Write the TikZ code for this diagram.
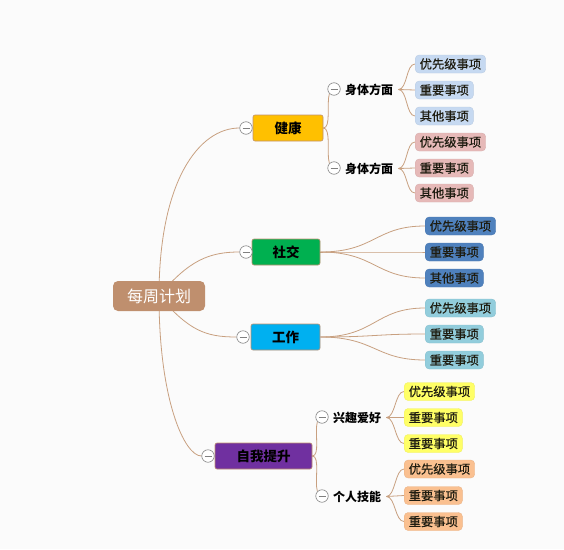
\documentclass[tikz,border=0pt]{standalone}
\usepackage{fontspec}
\newfontfamily\cjk{Noto Sans CJK SC}
\newfontfamily\cjkm[FakeBold=0.4]{Noto Sans CJK SC}
\definecolor{linkc}{HTML}{C8A080}
\definecolor{rootc}{HTML}{BF8F6E}
\definecolor{mainb}{HTML}{C09070}
\definecolor{txt}{HTML}{1E1C10}
\definecolor{cHealth}{HTML}{FFC000}
\definecolor{cSocial}{HTML}{00B050}
\definecolor{cWork}{HTML}{00B0F0}
\definecolor{cSelf}{HTML}{7030A0}
\definecolor{lBlue}{HTML}{C6D9F1}
\definecolor{lPink}{HTML}{E6B9B8}
\definecolor{lDark}{HTML}{4F81BD}
\definecolor{lCyan}{HTML}{92CDDC}
\definecolor{lYellow}{HTML}{FFFF66}
\definecolor{lPeach}{HTML}{FAC090}
\definecolor{bgc}{HTML}{FBFBFB}
\pgfdeclarelayer{bg}
\pgfdeclarelayer{links}
\pgfsetlayers{bg,links,main}
\begin{document}
\begin{tikzpicture}[x=1pt,y=-1pt,
  link/.style={draw=linkc, line width=0.8pt},
  rootbox/.style={fill=rootc, text=white, rounded corners=5pt, minimum width=92pt, minimum height=30pt, inner sep=0pt, font=\cjk\fontsize{16}{16}\selectfont},
  mainbox/.style={draw=mainb, line width=0.6pt, rounded corners=2pt, minimum height=26pt, inner sep=0pt, text=black, font=\cjk\bfseries\fontsize{13.5}{13.5}\selectfont},
  subtext/.style={anchor=west, inner sep=1pt, text=black, font=\cjk\bfseries\fontsize{12}{12}\selectfont},
  leaf/.style={anchor=west, fill=#1, draw=#1!94!black, line width=0.4pt, rounded corners=4pt, minimum height=18pt, inner xsep=4.5pt, inner ysep=0pt, text=txt, font=\cjkm\fontsize{12.3}{12.3}\selectfont},
  toggle/.style={circle, draw=gray, fill=white, line width=0.6pt, minimum size=12.5pt, inner sep=0pt,
    path picture={\draw[gray, line width=0.6pt] ([xshift=-3.5pt]path picture bounding box.center) -- ([xshift=3.5pt]path picture bounding box.center);}}
]
\begin{pgfonlayer}{bg}
\fill[bgc] (0,0) rectangle (564,549);
\end{pgfonlayer}
\useasboundingbox (0,0) rectangle (564,549);

% root
\node[rootbox] (root) at (159,296) {每周计划};

% main branches
\node[mainbox, fill=cHealth, minimum width=70pt] (health) at (288,128) {健康};
\node[mainbox, fill=cSocial, minimum width=68pt] (social) at (286,252) {社交};
\node[mainbox, fill=cWork, minimum width=69pt] (work) at (285.5,337) {工作};
\node[mainbox, fill=cSelf, minimum width=97pt] (self) at (263.5,456) {自我提升};

\node[toggle] (tH) at (246,128) {};
\node[toggle] (tS) at (246,252) {};
\node[toggle] (tW) at (243,337) {};
\node[toggle] (tP) at (208,456) {};

% sub topics
\node[toggle] (tH1) at (334,89) {};
\node[subtext] (h1) at (344,89.5) {身体方面};
\node[toggle] (tH2) at (334,168) {};
\node[subtext] (h2) at (344,168.5) {身体方面};
\node[toggle] (tP1) at (322,417) {};
\node[subtext] (p1) at (332,417.5) {兴趣爱好};
\node[toggle] (tP2) at (322,496) {};
\node[subtext] (p2) at (332,496.5) {个人技能};

% leaves
\node[leaf=lBlue] (h1a) at (415,64) {优先级事项};
\node[leaf=lBlue] (h1b) at (415,90) {重要事项};
\node[leaf=lBlue] (h1c) at (415,116) {其他事项};
\node[leaf=lPink] (h2a) at (415,142) {优先级事项};
\node[leaf=lPink] (h2b) at (415,168) {重要事项};
\node[leaf=lPink] (h2c) at (415,193) {其他事项};
\node[leaf=lDark] (sa) at (425,226) {优先级事项};
\node[leaf=lDark] (sb) at (425,252) {重要事项};
\node[leaf=lDark] (sc) at (425,278) {其他事项};
\node[leaf=lCyan] (wa) at (425,308) {优先级事项};
\node[leaf=lCyan] (wb) at (425,334) {重要事项};
\node[leaf=lCyan] (wc) at (425,360) {重要事项};
\node[leaf=lYellow] (p1a) at (404,391.5) {优先级事项};
\node[leaf=lYellow] (p1b) at (404,417.5) {重要事项};
\node[leaf=lYellow] (p1c) at (404,443.5) {重要事项};
\node[leaf=lPeach] (p2a) at (404,469) {优先级事项};
\node[leaf=lPeach] (p2b) at (404,495.5) {重要事项};
\node[leaf=lPeach] (p2c) at (404,521.5) {重要事项};

\begin{pgfonlayer}{links}
% root to main
\draw[link] (root.center) .. controls +(0,-116) and +(-40,0) .. (tH.west);
\draw[link] (root.center) .. controls +(30,-36) and +(-30,0) .. (tS.west);
\draw[link] (root.center) .. controls +(30,34) and +(-32,0) .. (tW.west);
\draw[link] (root.center) .. controls +(0,104) and +(-17,0) .. (tP.west);
% main to sub
\draw[link] (health.east) .. controls +(8,0) and +(-3,10) .. (tH1.south west);
\draw[link] (health.east) .. controls +(8,0) and +(-3,-10) .. (tH2.north west);
\draw[link] (self.east) .. controls +(8,0) and +(-3,10) .. (tP1.south west);
\draw[link] (self.east) .. controls +(8,0) and +(-3,-10) .. (tP2.north west);
% sub to leaves
\foreach \l in {h1a,h1b,h1c}{\draw[link] ([xshift=4pt]h1.east) .. controls +(9,0) and +(-9,0) .. (\l.west);}
\foreach \l in {h2a,h2b,h2c}{\draw[link] ([xshift=4pt]h2.east) .. controls +(9,0) and +(-9,0) .. (\l.west);}
\foreach \l in {p1a,p1b,p1c}{\draw[link] ([xshift=4pt]p1.east) .. controls +(9,0) and +(-9,0) .. (\l.west);}
\foreach \l in {p2a,p2b,p2c}{\draw[link] ([xshift=4pt]p2.east) .. controls +(9,0) and +(-9,0) .. (\l.west);}
\foreach \l in {sa,sb,sc}{\draw[link] (social.east) .. controls +(55,0) and +(-50,0) .. (\l.west);}
\foreach \l in {wa,wb,wc}{\draw[link] (work.east) .. controls +(55,0) and +(-50,0) .. (\l.west);}
\end{pgfonlayer}
\end{tikzpicture}
\end{document}
